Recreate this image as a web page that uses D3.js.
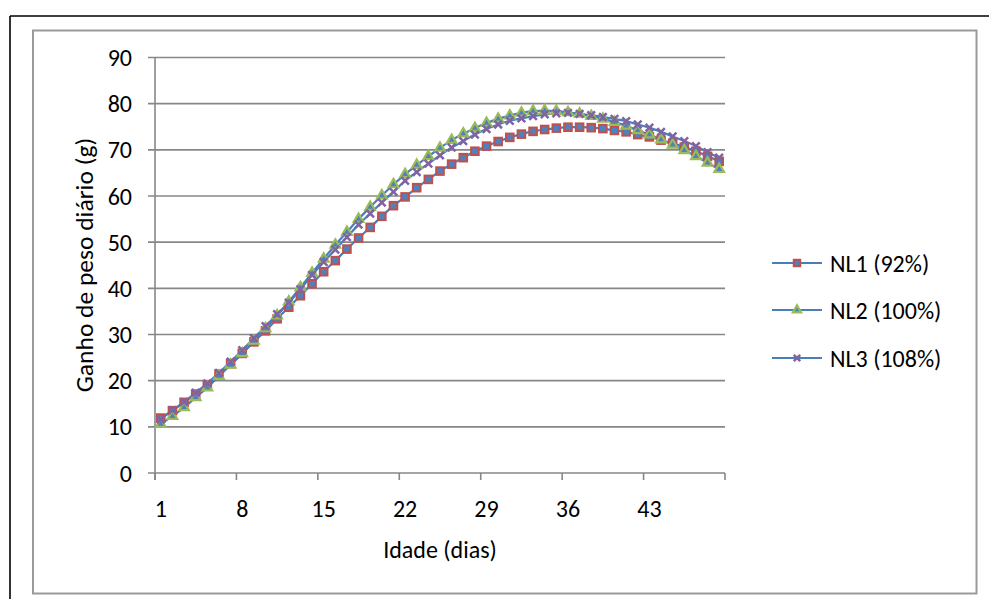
<!DOCTYPE html>
<html><head><meta charset="utf-8">
<script src="https://cdn.jsdelivr.net/npm/d3@7/dist/d3.min.js"></script>
<style>
html,body{margin:0;padding:0;background:#fff;}
svg{display:block;font-family:Carlito,Lato,"Open Sans",sans-serif;}
</style></head>
<body><svg id="c" width="989" height="599"></svg>
<script>
const days = d3.range(1, 50);
const xTickLabels = [1, 8, 15, 22, 29, 36, 43];
const yTicks = [0, 10, 20, 30, 40, 50, 60, 70, 80, 90];
const seriesNames = ["NL1 (92%)", "NL2 (100%)", "NL3 (108%)"];
const nl1 = [11.9,13.5,15.3,17.1,19.0,21.4,23.7,25.9,28.4,30.8,33.4,35.9,38.4,41.0,43.6,46.0,48.5,50.9,53.2,55.6,57.9,
  59.8,61.8,63.6,65.4,66.9,68.3,69.7,70.8,71.8,72.7,73.4,74.0,74.4,74.7,74.9,74.9,74.8,74.6,74.2,73.9,73.3,72.8,72.1,71.4,70.6,69.7,68.6,67.5];
const nl2 = [10.6,12.3,14.2,16.4,18.5,21.0,23.4,25.9,28.6,31.3,34.1,37.1,40.2,43.3,46.4,49.4,52.2,55.0,57.6,60.1,62.5,
  64.7,66.7,68.6,70.4,72.1,73.5,74.7,75.8,76.7,77.4,78.0,78.4,78.5,78.4,78.1,77.8,77.3,76.7,76.0,75.2,74.2,73.3,72.2,71.1,69.9,68.6,67.2,65.8];
const nl3 = [11.6,13.6,15.4,17.4,19.4,21.7,24.1,26.6,29.2,31.8,34.4,36.9,39.8,42.9,45.7,48.4,51.1,53.8,56.2,58.6,60.9,
  63.3,65.2,67.0,68.8,70.5,71.9,73.3,74.5,75.5,76.3,76.8,77.3,77.7,77.9,78.0,77.8,77.5,77.1,76.7,76.2,75.5,74.8,73.9,72.9,71.9,70.8,69.5,68.3];

const svg = d3.select("#c");
const lineColor = "#4A7EBB";
const gridColor = "#878787";
const fs = 24;

svg.append("line").attr("x1",10).attr("y1",16).attr("x2",989).attr("y2",16).attr("stroke","#000").attr("stroke-width",1.6);
svg.append("line").attr("x1",10).attr("y1",16).attr("x2",10).attr("y2",599).attr("stroke","#000").attr("stroke-width",1.6);
svg.append("rect").attr("x",33).attr("y",30.5).attr("width",943.5).attr("height",563).attr("fill","#fff").attr("stroke","#9a9a9a").attr("stroke-width",2);

const L = 155, R = 725, T = 57.5, B = 473;
const x = d3.scaleBand().domain(days).range([L, R]).paddingInner(0).paddingOuter(0);
const y = d3.scaleLinear().domain([0, 90]).range([B, T]);
const cx = d => x(d) + x.bandwidth() / 2;

const g = svg.append("g");
g.selectAll("line.grid").data(yTicks).join("line")
  .attr("x1", L - 7).attr("x2", R).attr("y1", d => y(d)).attr("y2", d => y(d))
  .attr("stroke", gridColor).attr("stroke-width", 1.6);
g.append("line").attr("x1", L).attr("x2", L).attr("y1", T).attr("y2", B + 7).attr("stroke", gridColor).attr("stroke-width", 1.6);
const bounds = d3.range(0, 50, 7);
g.selectAll("line.xt").data(bounds).join("line")
  .attr("x1", d => L + d * x.bandwidth()).attr("x2", d => L + d * x.bandwidth())
  .attr("y1", B).attr("y2", B + 7).attr("stroke", gridColor).attr("stroke-width", 1.6);

g.selectAll("text.yl").data(yTicks).join("text")
  .attr("x", 132).attr("y", d => y(d)).attr("dy", "0.36em").attr("text-anchor", "end")
  .attr("font-size", fs).attr("fill", "#000").text(d => d);
g.selectAll("text.xl").data(xTickLabels).join("text")
  .attr("x", d => cx(d)).attr("y", 508).attr("dy", "0.36em").attr("text-anchor", "middle")
  .attr("font-size", fs).attr("fill", "#000").text(d => d);

svg.append("text").attr("x", 440).attr("y", 549).attr("dy", "0.36em").attr("text-anchor", "middle")
  .attr("font-size", fs).text("Idade (dias)");
svg.append("text").attr("transform", "translate(84,265) rotate(-90)").attr("dy", "0.36em").attr("text-anchor", "middle")
  .attr("font-size", 25.5).text("Ganho de peso diário (g)");

const series = [nl1, nl2, nl3];
const line = d3.line().x((d, i) => cx(days[i])).y(d => y(d)).curve(d3.curveMonotoneX);
series.forEach(s => {
  svg.append("path").attr("d", line(s)).attr("fill", "none").attr("stroke", lineColor).attr("stroke-width", 2.2);
});

function marker(sel, k, sc) {
  const r = 3.8 * sc;
  if (k === 0) {
    sel.append("rect").attr("x", -r).attr("y", -r).attr("width", 2*r).attr("height", 2*r)
      .attr("fill", "#4F81BD").attr("stroke", "#C0504D").attr("stroke-width", 2);
  } else if (k === 1) {
    sel.append("path").attr("d", d3.symbol(d3.symbolTriangle, 40 * sc * sc)())
      .attr("fill", "#4F81BD").attr("stroke", "#9BBB59").attr("stroke-width", 2.2);
  } else {
    sel.append("path").attr("d", `M${-r},${-r}L${r},${r}M${-r},${r}L${r},${-r}`)
      .attr("stroke", "#8064A2").attr("stroke-width", 2.5).attr("fill", "none");
  }
}
series.forEach((s, k) => {
  const mg = svg.append("g");
  s.forEach((v, i) => {
    marker(mg.append("g").attr("transform", `translate(${cx(days[i])},${y(v)})`), k, 1);
  });
});

const legY = [263, 310, 358];
seriesNames.forEach((n, k) => {
  const lg = svg.append("g").attr("transform", `translate(0,${legY[k]})`);
  lg.append("line").attr("x1", 772).attr("x2", 822).attr("y1", 0).attr("y2", 0).attr("stroke", lineColor).attr("stroke-width", 2.2);
  marker(lg.append("g").attr("transform", "translate(797,0)"), k, 0.85);
  lg.append("text").attr("x", 830).attr("y", 0).attr("dy", "0.36em").attr("font-size", fs).text(n);
});
</script></body></html>
